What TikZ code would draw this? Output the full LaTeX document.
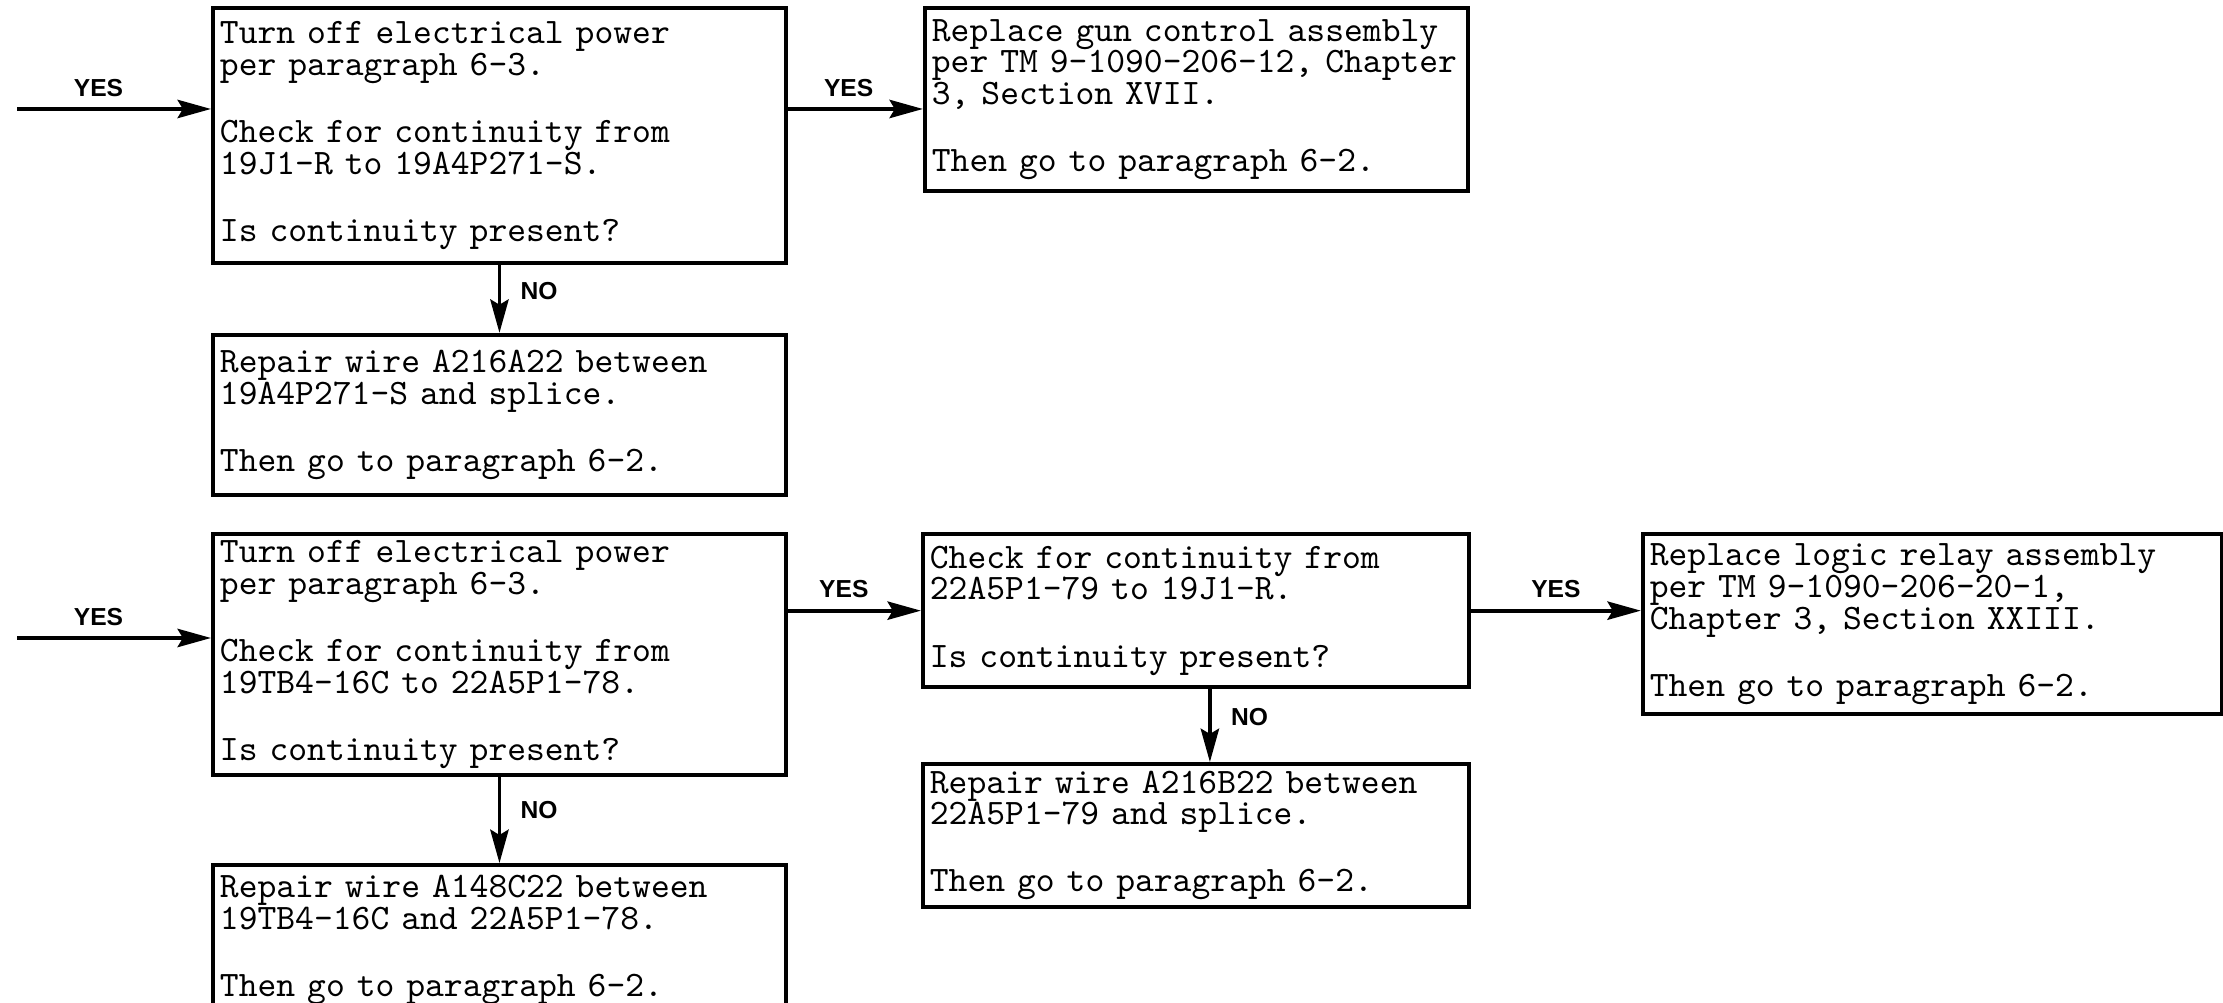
\documentclass[tikz,border=0pt]{standalone}
\usepackage{fontspec}
\newfontfamily\tagfont{Liberation Sans}
\usetikzlibrary{arrows.meta, positioning}

\begin{document}
\begin{tikzpicture}[node distance=0.5cm]
\tikzstyle{box}=[rectangle, draw, line width=1.1pt, align=left, inner xsep=2pt, inner ysep=0pt, font=\fontsize{10.2}{9}\ttfamily]
\tikzstyle{go}=[line width=1.1pt, -{Stealth[length=9.5pt, width=5.2pt, inset=1.5pt]}]
\tikzstyle{tag}=[font=\fontsize{7}{8}\tagfont\bfseries, inner sep=2pt]

\useasboundingbox (0,0) rectangle (22.23,-10.03);

% first check
\node[box, text width=5.59cm, minimum height=2.55cm, anchor=north west] (A) at (2.11,-0.06)
  {Turn off electrical power\\ per paragraph 6-3.\\[10.1pt] Check for continuity from\\ 19J1-R to 19A4P271-S.\\[10.1pt] Is continuity present?};
\node[box, text width=5.29cm, minimum height=1.83cm, right=1.35cm of A.north east, anchor=north west] (B)
  {Replace gun control assembly\\ \mbox{per TM 9-1090-206-12, Chapter}\\ 3, Section XVII.\\[10.1pt] Then go to paragraph 6-2.};
\node[box, text width=5.59cm, minimum height=1.60cm, below=0.68cm of A.south west, anchor=north west] (C)
  {Repair wire A216A22 between\\ 19A4P271-S and splice.\\[10.1pt] Then go to paragraph 6-2.};

% second check
\node[box, text width=5.59cm, minimum height=2.41cm, below=0.355cm of C.south west, anchor=north west] (D)
  {Turn off electrical power\\ per paragraph 6-3.\\[10.1pt] Check for continuity from\\ 19TB4-16C to 22A5P1-78.\\[10.1pt] Is continuity present?};
\node[box, text width=5.59cm, minimum height=1.50cm, below=0.86cm of D.south west, anchor=north west] (G)
  {Repair wire A148C22 between\\ 19TB4-16C and 22A5P1-78.\\[10.1pt] Then go to paragraph 6-2.};
\node[box, text width=5.32cm, minimum height=1.53cm, right=1.33cm of D.north east, anchor=north west] (E)
  {Check for continuity from\\ 22A5P1-79 to 19J1-R.\\[10.1pt] Is continuity present?};
\node[box, text width=5.32cm, minimum height=1.43cm, below=0.73cm of E.south west, anchor=north west] (F)
  {Repair wire A216B22 between\\ 22A5P1-79 and splice.\\[10.1pt] Then go to paragraph 6-2.};
\node[box, text width=5.65cm, minimum height=1.80cm, right=1.70cm of E.north east, anchor=north west] (H)
  {Replace logic relay assembly\\ per TM 9-1090-206-20-1,\\ Chapter 3, Section XXIII.\\[10.1pt] Then go to paragraph 6-2.};

\coordinate (in1) at (0.17,-1.09);
\coordinate (in2) at (0.17,-6.38);

\draw[go] (in1) -- (in1 -| A.west) node[tag, pos=0.42, above=1pt] {YES};
\draw[go] (in1 -| A.east) -- (in1 -| B.west) node[tag, pos=0.45, above=1pt] {YES};
\draw[go] (A.south) -- (C.north) node[tag, pos=0.38, right=3.5pt] {NO};

\draw[go] (in2) -- (in2 -| D.west) node[tag, pos=0.42, above=1pt] {YES};
\draw[go] (E.west -| D.east) -- (E.west) node[tag, pos=0.42, above=1pt] {YES};
\draw[go] (D.south) -- (G.north) node[tag, pos=0.38, right=3.5pt] {NO};
\draw[go] ([xshift=0.14cm]E.south) -- ([xshift=0.14cm]E.south |- F.north) node[tag, pos=0.38, right=3.5pt] {NO};
\draw[go] (E.east) -- (E.east -| H.west) node[tag, pos=0.5, above=1pt] {YES};
\end{tikzpicture}
\end{document}
